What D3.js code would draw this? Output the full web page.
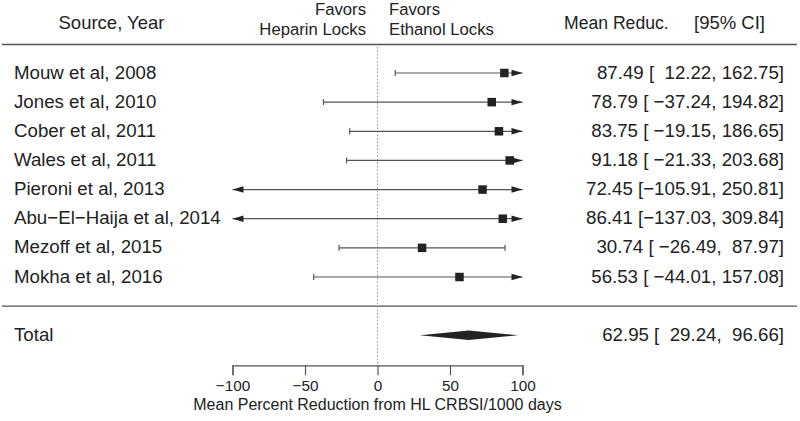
<!DOCTYPE html>
<meta charset="utf-8">
<script src="https://d3js.org/d3.v7.min.js"></script>
<style>
  body { margin: 0; background: #fff; }
  text { font-family: "Liberation Sans", Arial, sans-serif; fill: #222; }
</style>
<div id="my_dataviz"></div>
<script>
// study data
const studies = ["Mouw et al, 2008", "Jones et al, 2010", "Cober et al, 2011", "Wales et al, 2011",
  "Pieroni et al, 2013", "Abu\u2212El\u2212Haija et al, 2014", "Mezoff et al, 2015", "Mokha et al, 2016"];
const estimates = [87.49, 78.79, 83.75, 91.18, 72.45, 86.41, 30.74, 56.53];
const ciLower = [12.22, -37.24, -19.15, -21.33, -105.91, -137.03, -26.49, -44.01];
const ciUpper = [162.75, 194.82, 186.65, 203.68, 250.81, 309.84, 87.97, 157.08];
const total = {label: "Total", est: 62.95, lo: 29.24, hi: 96.66};
const xTicks = [-100, -50, 0, 50, 100];

const width = 800, height = 421;

const svg = d3.select("#my_dataviz")
  .append("svg")
    .attr("width", width)
    .attr("height", height);

// x scale for the effect sizes, clipped to the axis range
const x = d3.scaleLinear().domain([-100, 100]).range([232.5, 522.5]);
// y scale on row numbers (study rows 8..1, total at -1)
const y = d3.scaleLinear().domain([8, 1]).range([73, 277]);

const fmt = d3.format(".2f");
const minus = s => s.replace("-", "\u2212");
const pad = (v, w) => {
  let s = minus(fmt(v));
  while (s.length < w) s = " " + s;
  return s;
};

const rows = studies.map((s, i) => ({
  label: s, est: estimates[i], lo: ciLower[i], hi: ciUpper[i], row: studies.length - i
}));

const lineCol = "#555";
const bodySize = "18.7px";

// horizontal rules
svg.append("line").attr("x1", 2).attr("x2", 797).attr("y1", 44.5).attr("y2", 44.5)
  .attr("stroke", lineCol).attr("stroke-width", 1.3);
svg.append("line").attr("x1", 2).attr("x2", 797).attr("y1", y(0)).attr("y2", y(0))
  .attr("stroke", lineCol).attr("stroke-width", 1.3);

// reference line at 0
svg.append("line").attr("x1", x(0)).attr("x2", x(0))
  .attr("y1", 47).attr("y2", y(-2.03))
  .attr("stroke", "#999").attr("stroke-dasharray", "1.5,2");

// header
const header = svg.append("g");
header.append("text").attr("x", 111.5).attr("y", 29).attr("text-anchor", "middle")
  .style("font-size", "18.5px").text("Source, Year");
header.append("text").attr("x", 366).attr("y", 14.5).attr("text-anchor", "end").style("font-size", "16.7px").text("Favors");
header.append("text").attr("x", 366).attr("y", 35).attr("text-anchor", "end").style("font-size", "16.7px").text("Heparin Locks");
header.append("text").attr("x", 389).attr("y", 14.5).style("font-size", "16.7px").text("Favors");
header.append("text").attr("x", 389).attr("y", 35).style("font-size", "16.7px").text("Ethanol Locks");
header.append("text").attr("x", 564).attr("y", 28.5).style("font-size", "17.6px").text("Mean Reduc.");
header.append("text").attr("x", 694).attr("y", 28.5).style("font-size", "18.5px").text("[95% CI]");

// whiskers
const clamp = v => Math.max(-100, Math.min(100, v));
const g = svg.append("g");
const tri = 11, triH = 3.2;

rows.forEach(d => {
  const yy = y(d.row);
  const x1 = x(clamp(d.lo)), x2 = x(clamp(d.hi));
  g.append("line").attr("x1", x1).attr("x2", x2).attr("y1", yy).attr("y2", yy)
    .attr("stroke", lineCol).attr("stroke-width", 1.2);
  if (d.lo < -100) {
    g.append("path").attr("d", `M${x1},${yy}L${x1 + tri},${yy - triH}L${x1 + tri},${yy + triH}Z`).attr("fill", "#222");
  } else {
    g.append("line").attr("x1", x1).attr("x2", x1).attr("y1", yy - 3).attr("y2", yy + 3)
      .attr("stroke", lineCol).attr("stroke-width", 1.2);
  }
  if (d.hi > 100) {
    g.append("path").attr("d", `M${x2},${yy}L${x2 - tri},${yy - triH}L${x2 - tri},${yy + triH}Z`).attr("fill", "#222");
  } else {
    g.append("line").attr("x1", x2).attr("x2", x2).attr("y1", yy - 3).attr("y2", yy + 3)
      .attr("stroke", lineCol).attr("stroke-width", 1.2);
  }
  const s = 8.5;
  g.append("rect").attr("x", x(d.est) - s / 2).attr("y", yy - s / 2)
    .attr("width", s).attr("height", s).attr("fill", "#222");
});

// total diamond
const ty = y(-1);
svg.append("path")
  .attr("d", `M${x(total.lo)},${ty}L${x(total.est)},${ty - 4.7}L${x(total.hi)},${ty}L${x(total.est)},${ty + 4.7}Z`)
  .attr("fill", "#222");

// labels left and right
const labs = svg.append("g").style("font-size", bodySize);
rows.concat([Object.assign({row: -1}, total)]).forEach(d => {
  const yy = y(d.row) + 5.5;
  labs.append("text").attr("x", 14).attr("y", yy).text(d.label);
  labs.append("text").attr("x", 784).attr("y", yy).attr("text-anchor", "end")
    .style("white-space", "pre")
    .text(`${fmt(d.est)} [${pad(d.lo, 7)}, ${pad(d.hi, 6)}]`);
});

// x axis
const axis = svg.append("g")
  .attr("transform", `translate(0, ${y(-2.03)})`)
  .call(d3.axisBottom(x).tickValues(xTicks).tickSize(10).tickPadding(5)
    .tickFormat(d => minus(String(d))));
axis.select(".domain").attr("stroke", lineCol).attr("stroke-width", 1.2);
axis.selectAll(".tick line").attr("stroke", lineCol).attr("stroke-width", 1.2);
axis.selectAll(".tick text").style("font-size", "15.3px").style("font-family", "Liberation Sans, Arial, sans-serif").attr("fill", "#222");

svg.append("text").attr("x", x(0)).attr("y", 410).attr("text-anchor", "middle")
  .style("font-size", "16px").text("Mean Percent Reduction from HL CRBSI/1000 days");
</script>
